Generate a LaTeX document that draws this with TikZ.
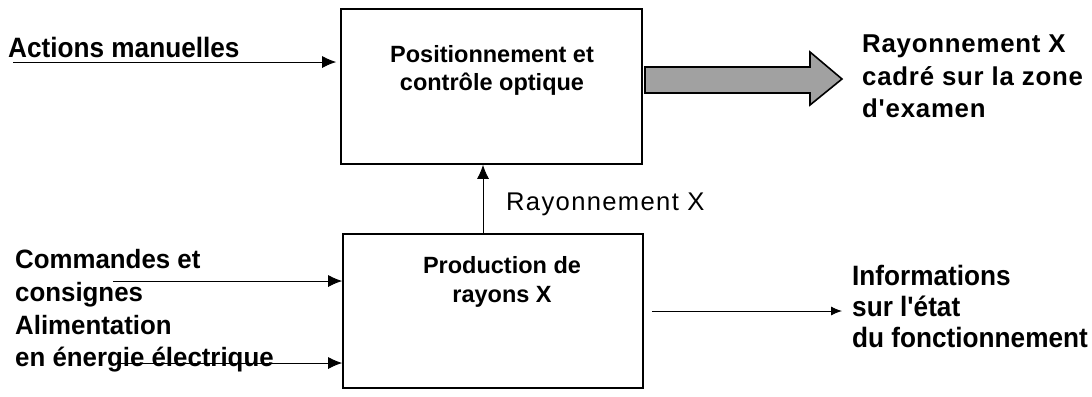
\documentclass[tikz,border=0pt]{standalone}
\usepackage{fontspec}
\setmainfont{Liberation Sans}[Ligatures=TeXOff]
\usetikzlibrary{arrows.meta}
\begin{document}
\begin{tikzpicture}[x=1bp,y=-1bp,
  box/.style={draw=black,line width=1.6bp,inner sep=0pt},
  lbl/.style={anchor=base west,inner sep=0pt,font=\fontsize{26.5bp}{32bp}\selectfont\bfseries\addfontfeatures{FakeStretch=0.975}},
  narrowlbl/.style={anchor=base west,inner sep=0pt,font=\fontsize{28bp}{32bp}\selectfont\bfseries\addfontfeatures{FakeStretch=0.935}},
  outlbl/.style={anchor=base west,inner sep=0pt,font=\fontsize{25.8bp}{32bp}\selectfont\bfseries\addfontfeatures{LetterSpace=3}},
  boxtxt/.style={anchor=base,inner sep=0pt,font=\fontsize{23.5bp}{28bp}\selectfont\bfseries},
  arr/.style={line width=0.9bp,-{Latex[length=14bp,width=12bp]}},
  smallarr/.style={line width=0.9bp,-{Latex[length=11bp,width=9bp]}},
  fat/.style={draw=black,line width=1.6bp,fill=black!37}]
\useasboundingbox (0,0) rectangle (1092,396);

% function blocks
\node[box,minimum width=301bp,minimum height=155bp] (pos) at (491.5,86.5) {};
\node[box,minimum width=300bp,minimum height=154bp] (prod) at (493,311) {};

\node[boxtxt] (pos1) at (492,62) {Positionnement et};
\node[boxtxt] (pos2) at (492,90) {contrôle optique};
\node[boxtxt] (prod1) at (502,273) {Production de};
\node[boxtxt] (prod2) at (502,302) {rayons X};

% inputs
\node[narrowlbl] (am) at (8,57) {Actions manuelles};
\coordinate (amS) at (13,62);
\draw[arr,shorten >=4bp] (amS) -- (amS -| pos.west);

\node[lbl] (cmd1) at (15,268) {Commandes et};
\node[lbl] (cmd2) at (15,301) {consignes};
\coordinate (cmdS) at (113,281);
\draw[arr] (cmdS) -- (cmdS -| prod.west);

\node[lbl] (ali1) at (15,334) {Alimentation};
\node[lbl] (ali2) at (15,366) {en énergie électrique};
\coordinate (aliS) at (115,363);
\draw[arr] (aliS) -- (aliS -| prod.west);

% X-rays from production to positioning
\coordinate (rx) at (483,234);
\draw[arr] (rx |- prod.north) -- (rx |- pos.south);
\node[anchor=base west,inner sep=0pt,font=\fontsize{25.6bp}{32bp}\selectfont\addfontfeatures{LetterSpace=5.2}] (rxl) at (506,210) {Rayonnement X};

% framed beam output
\draw[fat] (645,67) -- (810,67) -- (810,52) -- (842,79) -- (810,105) -- (810,93) -- (645,93) -- cycle;
\node[outlbl] (out1) at (862,52) {Rayonnement X};
\node[outlbl] (out2) at (862,85) {cadré sur la zone};
\node[outlbl] (out3) at (862,117) {d'examen};

% status information output
\node[narrowlbl] (inf1) at (852,285) {Informations};
\node[narrowlbl] (inf2) at (852,316) {sur l'état};
\node[narrowlbl] (inf3) at (852,347) {du fonctionnement};
\coordinate (infE) at (842,311);
\draw[smallarr,shorten <=8bp] (infE -| prod.east) -- (infE);
\end{tikzpicture}
\end{document}
